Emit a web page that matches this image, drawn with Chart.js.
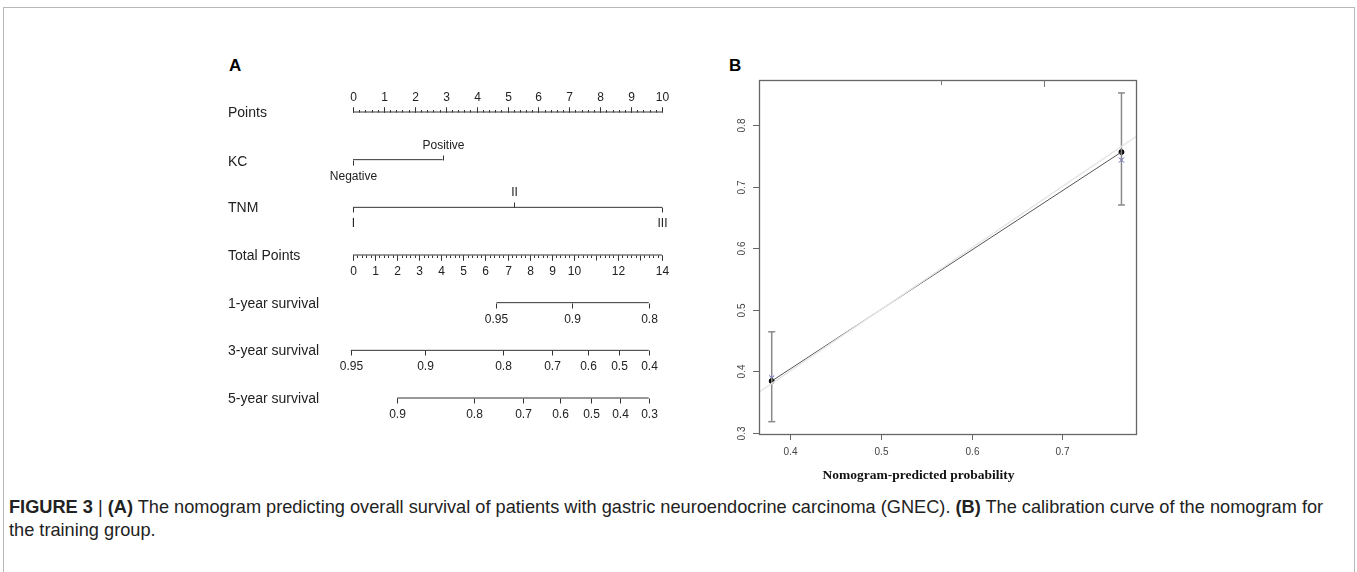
<!DOCTYPE html>
<html>
<head>
<meta charset="utf-8">
<title>Figure 3</title>
<script src="https://cdn.jsdelivr.net/npm/chart.js"></script>
<style>
  html, body { margin: 0; padding: 0; background: #fff; }
  body { width: 1357px; height: 572px; position: relative; overflow: hidden; font-family: "Liberation Sans", Arial, sans-serif; }
  .frame { position: absolute; left: 3px; top: 7px; width: 1350px; height: 620px; border: 1px solid #b8b8b8; border-bottom: none; }
  .tag { position: absolute; font-weight: bold; font-size: 17px; color: #000; line-height: 17px; }
  #wrapA { position: absolute; left: 220px; top: 60px; }
  #wrapB { position: absolute; left: 720px; top: 55px; }
  .caption { position: absolute; left: 9px; top: 496px; font-size: 18.2px; line-height: 23px; color: #222; white-space: nowrap; }
</style>
</head>
<body>
<div class="frame"></div>
<div class="tag" style="left:229px; top:57px;">A</div>
<div class="tag" style="left:729px; top:57px;">B</div>
<div id="wrapA"><canvas id="chartA" width="470" height="380"></canvas></div>
<div id="wrapB"><canvas id="chartB" width="440" height="440"></canvas></div>
<div class="caption"><b>FIGURE 3</b> | <b>(A)</b> The nomogram predicting overall survival of patients with gastric neuroendocrine carcinoma (GNEC). <b>(B)</b> The calibration curve of the nomogram for<br>the training group.</div>

<script>
// ---- panel A: nomogram ----
const rowNames = ['Points', 'KC', 'TNM', 'Total Points', '1-year survival', '3-year survival', '5-year survival'];
const pointsTicks = [0, 1, 2, 3, 4, 5, 6, 7, 8, 9, 10];
const kcLevels = ['Negative', 'Positive'];
const kcPoints = [0, 2.9];
const tnmLevels = ['I', 'II', 'III'];
const tnmPoints = [0, 5.2, 10];
const totalTicks = [0, 1, 2, 3, 4, 5, 6, 7, 8, 9, 10, 12, 14];
const surv1Labels = ['0.95', '0.9', '0.8'];
const surv1Total = [6.5, 9.9, 13.4];
const surv3Labels = ['0.95', '0.9', '0.8', '0.7', '0.6', '0.5', '0.4'];
const surv3Total = [-0.1, 3.25, 6.8, 9.0, 10.65, 12.05, 13.4];
const surv5Labels = ['0.9', '0.8', '0.7', '0.6', '0.5', '0.4', '0.3'];
const surv5Total = [2.0, 5.5, 7.7, 9.4, 10.8, 12.1, 13.4];

// ---- panel B: calibration ----
const calPredicted = [0.38, 0.765];
const calObserved = [0.384, 0.756];
const calCorrected = [0.389, 0.743];
const calLower = [0.318, 0.670];
const calUpper = [0.464, 0.852];
const rugPredicted = [0.566, 0.68];
const xTicksB = [0.4, 0.5, 0.6, 0.7];
const yTicksB = [0.3, 0.4, 0.5, 0.6, 0.7, 0.8];
const xLimB = [0.366, 0.781];
const yLimB = [0.298, 0.873];

// one entry per nomogram axis; side 'up' = label above the line
const axesA = [
  { row: 0, scale: 'x', at: pointsTicks, labels: pointsTicks.map(String), side: pointsTicks.map(() => 'up'), minor: 0.2, max: 10 },
  { row: 1, scale: 'x', at: kcPoints, labels: kcLevels, side: ['down', 'up'] },
  { row: 2, scale: 'x', at: tnmPoints, labels: tnmLevels, side: ['down', 'up', 'down'] },
  { row: 3, scale: 'xt', at: totalTicks, labels: totalTicks.map(String), side: totalTicks.map(() => 'down'), minor: 0.2, max: 14 },
  { row: 4, scale: 'xt', at: surv1Total, labels: surv1Labels, side: surv1Total.map(() => 'down') },
  { row: 5, scale: 'xt', at: surv3Total, labels: surv3Labels, side: surv3Total.map(() => 'down') },
  { row: 6, scale: 'xt', at: surv5Total, labels: surv5Labels, side: surv5Total.map(() => 'down') }
];

const nomogramTicks = {
  id: 'nomogramTicks',
  afterDatasetsDraw(chart) {
    const ctx = chart.ctx;
    const yS = chart.scales.y;
    ctx.save();
    ctx.strokeStyle = '#333';
    ctx.fillStyle = '#222';
    ctx.lineWidth = 1;
    // row names
    ctx.font = '14px "Liberation Sans", Arial, sans-serif';
    ctx.textAlign = 'left';
    ctx.textBaseline = 'middle';
    rowNames.forEach((name, i) => {
      ctx.fillText(name, chart.chartArea.left - 125, yS.getPixelForValue(i) + (i === 1 ? 2 : 1));
    });
    ctx.font = '12px "Liberation Sans", Arial, sans-serif';
    ctx.textAlign = 'center';
    axesA.forEach(ax => {
      const xS = chart.scales[ax.scale];
      const y = Math.round(yS.getPixelForValue(ax.row)) + 0.5;
      if (ax.minor) {
        const dir = ax.side[0] === 'up' ? -1 : 1;
        for (let v = 0; v <= ax.max + 1e-9; v += ax.minor) {
          const px = Math.round(xS.getPixelForValue(v)) + 0.5;
          const isMajor = Math.abs(v - Math.round(v)) < 1e-6;
          ctx.beginPath();
          ctx.moveTo(px, y);
          ctx.lineTo(px, y + dir * (isMajor ? 5 : 2.5));
          ctx.stroke();
        }
      }
      ax.at.forEach((v, i) => {
        const px = Math.round(xS.getPixelForValue(v)) + 0.5;
        const dir = ax.side[i] === 'up' ? -1 : 1;
        ctx.beginPath();
        ctx.moveTo(px, y);
        ctx.lineTo(px, y + dir * 5);
        ctx.stroke();
        ctx.fillText(ax.labels[i], px, y + dir * (dir < 0 ? 15 : 16));
      });
    });
    ctx.restore();
  }
};

new Chart(document.getElementById('chartA').getContext('2d'), {
  type: 'scatter',
  data: {
    datasets: axesA.map(ax => ({
      data: [{ x: Math.min(...ax.at), y: ax.row }, { x: ax.max || Math.max(...ax.at), y: ax.row }],
      xAxisID: ax.scale,
      showLine: true,
      borderColor: '#333',
      borderWidth: 1,
      pointRadius: 0,
      clip: false
    }))
  },
  options: {
    responsive: false,
    animation: false,
    layout: { padding: { left: 133, right: 28, top: 52, bottom: 42 } },
    plugins: { legend: { display: false }, tooltip: { enabled: false } },
    scales: {
      x: { type: 'linear', min: 0, max: 10, display: false },
      xt: { type: 'linear', min: 0, max: 14, display: false },
      y: { type: 'linear', min: 0, max: 6, reverse: true, display: false }
    }
  },
  plugins: [nomogramTicks]
});

// ---- panel B chart ----
const calibAxes = {
  id: 'calibAxes',
  afterDatasetsDraw(chart) {
    const ctx = chart.ctx;
    const a = chart.chartArea;
    const xS = chart.scales.x, yS = chart.scales.y;
    ctx.save();
    ctx.strokeStyle = '#666';
    ctx.lineWidth = 1.3;
    ctx.strokeRect(Math.round(a.left) + 0.5, Math.round(a.top) + 0.5, Math.round(a.right - a.left), Math.round(a.bottom - a.top));
    ctx.lineWidth = 1;
    ctx.fillStyle = '#444';
    ctx.font = '10px "Liberation Sans", Arial, sans-serif';
    ctx.textAlign = 'center';
    ctx.textBaseline = 'middle';
    xTicksB.forEach(v => {
      const px = Math.round(xS.getPixelForValue(v)) + 0.5;
      ctx.beginPath(); ctx.moveTo(px, a.bottom); ctx.lineTo(px, a.bottom + 6); ctx.stroke();
      ctx.fillText(v.toFixed(1), px, a.bottom + 18);
    });
    yTicksB.forEach(v => {
      const py = Math.round(yS.getPixelForValue(v)) + 0.5;
      ctx.beginPath(); ctx.moveTo(a.left, py); ctx.lineTo(a.left - 6, py); ctx.stroke();
      ctx.save();
      ctx.translate(a.left - 17, py);
      ctx.rotate(-Math.PI / 2);
      ctx.fillText(v.toFixed(1), 0, 0);
      ctx.restore();
    });
    // rug of predicted values hanging from the top border
    ctx.strokeStyle = '#777';
    rugPredicted.forEach((v, i) => {
      const px = Math.round(xS.getPixelForValue(v)) + 0.5;
      ctx.beginPath(); ctx.moveTo(px, a.top); ctx.lineTo(px, a.top + (i === 0 ? 5 : 7)); ctx.stroke();
    });
    ctx.fillStyle = '#111';
    ctx.font = 'bold 13.5px "Liberation Serif", "Times New Roman", serif';
    ctx.fillText('Nomogram-predicted probability', (a.left + a.right) / 2 - 29, a.bottom + 42);
    ctx.restore();
  }
};

const errorBars = calPredicted.map((x, i) => ({
  data: [{ x, y: calLower[i] }, { x, y: calUpper[i] }],
  showLine: true,
  borderColor: '#8a8a8a',
  borderWidth: 1.5,
  pointStyle: 'line',
  pointRadius: 3.5,
  pointBorderColor: '#8a8a8a',
  pointBorderWidth: 1.5
}));

new Chart(document.getElementById('chartB').getContext('2d'), {
  type: 'scatter',
  data: {
    datasets: [
      {
        data: xLimB.map(v => ({ x: v, y: v })),
        showLine: true,
        borderColor: '#e6e6e6',
        borderWidth: 1.5,
        pointRadius: 0
      },
      {
        data: calPredicted.map((x, i) => ({ x, y: calObserved[i] })),
        showLine: true,
        borderColor: '#555',
        borderWidth: 1,
        pointRadius: 0
      },
      ...errorBars,
      {
        data: calPredicted.map((x, i) => ({ x, y: calObserved[i] })),
        pointRadius: 2.5,
        backgroundColor: '#000',
        borderColor: '#000'
      },
      {
        data: calPredicted.map((x, i) => ({ x, y: calCorrected[i] })),
        pointStyle: 'crossRot',
        pointRadius: 3.5,
        borderColor: '#4a4ad8',
        borderWidth: 1
      }
    ]
  },
  options: {
    responsive: false,
    animation: false,
    layout: { padding: { left: 39, right: 24, top: 25, bottom: 61 } },
    plugins: { legend: { display: false }, tooltip: { enabled: false } },
    scales: {
      x: { type: 'linear', min: xLimB[0], max: xLimB[1], display: false },
      y: { type: 'linear', min: yLimB[0], max: yLimB[1], display: false }
    }
  },
  plugins: [calibAxes]
});
</script>
</body>
</html>
